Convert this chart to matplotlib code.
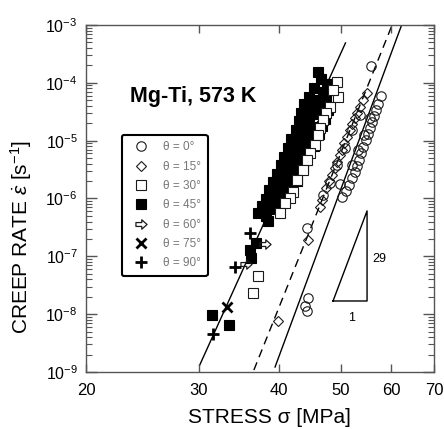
import numpy as np
import matplotlib
matplotlib.use("Agg")
import matplotlib.pyplot as plt
from matplotlib.path import Path
from matplotlib.lines import Line2D
from matplotlib.ticker import (FixedLocator, NullLocator, FixedFormatter,
                               LogFormatterSciNotation, NullFormatter)

plt.rcParams['font.family'] = ['Liberation Sans', 'DejaVu Sans']
plt.rcParams['mathtext.fontset'] = 'custom'
plt.rcParams['mathtext.rm'] = 'Liberation Sans'
plt.rcParams['mathtext.it'] = 'Liberation Sans:italic'
plt.rcParams['mathtext.bf'] = 'Liberation Sans:bold'

# ---------------- data ----------------
# theta = 0 deg (open circles)
s0 = [57.9, 57.2, 56.8, 56.4, 56.0, 55.6, 55.2, 54.8, 54.2, 53.8, 53.5, 53.1, 52.7, 52.1,
      51.6, 51.0, 50.3, 49.9, 55.6, 54.4, 53.3, 52.1, 53.6, 52.1, 50.8, 49.4, 48.2, 47.0,
      55.8, 44.3, 44.5, 44.0, 44.3]
r0 = [5.9e-5, 4.3e-5, 3.4e-5, 2.7e-5, 2.1e-5, 1.66e-5, 1.30e-5, 1.03e-5, 7.8e-6, 6.1e-6,
      4.6e-6, 3.65e-6, 2.9e-6, 2.26e-6, 1.71e-6, 1.35e-6, 1.06e-6, 1.78e-6, 2.5e-5, 1.25e-5,
      6.9e-6, 3.8e-6, 2.8e-5, 1.53e-5, 7.5e-6, 3.8e-6, 1.85e-6, 1.15e-6,
      1.95e-4, 3.1e-7, 1.90e-8, 1.38e-8, 1.13e-8]
# theta = 15 deg (open diamonds)
s15 = [55.0, 54.2, 53.6, 53.1, 52.7, 52.1, 51.7, 51.2, 50.6, 50.3, 49.9, 49.4, 49.0, 48.5,
       48.0, 47.5, 46.8, 46.4, 44.5, 39.9]
r15 = [6.7e-5, 5.0e-5, 3.8e-5, 3.0e-5, 2.5e-5, 1.94e-5, 1.53e-5, 1.16e-5, 9.1e-6, 6.9e-6,
       5.65e-6, 4.3e-6, 3.4e-6, 2.55e-6, 2.0e-6, 1.52e-6, 9.4e-7, 7.1e-7, 1.91e-7, 7.6e-9]
# theta = 30 deg (open squares)
s30 = [49.4, 49.6, 48.7, 48.2, 47.5, 47.0, 46.4, 46.1, 45.6, 44.8, 44.3, 43.7, 42.8, 42.1,
       41.7, 40.9, 40.2, 37.2, 36.5]
r30 = [1.03e-4, 5.7e-5, 7.5e-5, 3.8e-5, 3.0e-5, 2.3e-5, 1.66e-5, 1.25e-5, 8.4e-6, 6.1e-6,
       4.6e-6, 3.1e-6, 2.09e-6, 1.29e-6, 1.02e-6, 8.4e-7, 5.6e-7, 4.6e-8, 2.32e-8]
# theta = 45 deg (closed squares)
s45 = [46.1, 46.6, 47.6, 45.45, 46.95, 48.0, 44.6, 45.95, 47.5, 43.85, 45.1, 46.6, 47.8,
       43.4, 44.6, 46.1, 47.3, 43.1, 44.15, 45.6, 46.8, 42.6, 43.85, 44.95, 46.3,
       41.85, 43.05, 44.15, 45.45, 41.4, 42.45, 43.5, 44.6, 40.8, 41.85, 43.05, 44.15,
       40.35, 41.4, 42.6, 43.7, 39.8, 40.95, 42.15, 39.2, 40.35, 41.55, 42.75,
       38.65, 39.8, 40.95, 38.25, 39.2, 40.35, 37.7, 38.65, 39.8, 37.15, 38.25, 38.5,
       36.9, 36.1, 36.2, 31.5, 33.5]
r45 = [1.54e-4, 1.16e-4, 9.5e-5, 8.1e-5, 6.9e-5, 7.5e-5, 5.7e-5, 5.0e-5, 5.25e-5,
       4.3e-5, 3.8e-5, 4.0e-5, 3.4e-5, 3.0e-5, 2.67e-5, 2.89e-5, 2.37e-5,
       2.19e-5, 1.94e-5, 1.72e-5, 1.79e-5, 1.53e-5, 1.36e-5, 1.20e-5, 1.30e-5,
       1.07e-5, 9.9e-6, 8.8e-6, 8.1e-6, 7.5e-6, 6.6e-6, 5.9e-6, 6.4e-6,
       5.2e-6, 4.6e-6, 4.3e-6, 4.6e-6, 3.8e-6, 3.4e-6, 3.1e-6, 3.5e-6,
       2.65e-6, 2.35e-6, 2.55e-6, 1.93e-6, 1.78e-6, 1.64e-6, 2.0e-6,
       1.40e-6, 1.24e-6, 1.35e-6, 9.8e-7, 9.1e-7, 1.06e-6, 7.4e-7, 6.6e-7, 7.7e-7,
       5.6e-7, 5.0e-7, 4.1e-7, 1.70e-7, 1.29e-7, 9.4e-8, 9.7e-9, 6.5e-9]
# theta = 60 deg (arrow markers)
s60 = [38.1, 35.6]
r60 = [1.63e-7, 7.4e-8]
# theta = 75 deg (crosses)
s75 = [33.2, 37.8]
r75 = [1.33e-8, 5.8e-7]
# theta = 90 deg (plus)
s90 = [31.6, 34.2, 36.1]
r90 = [4.5e-9, 6.5e-8, 2.53e-7]

# fit lines
fitA_s, fitA_r = [30.1, 50.9], [1.3e-9, 4.9e-4]     # solid, left group
fitB_s, fitB_r = [36.6, 60.2], [1.08e-9, 1.0e-3]    # dashed
fitC_s, fitC_r = [39.5, 62.3], [1.22e-9, 1.0e-3]    # solid
# slope triangle (n = 29)
tri_s = [48.67, 55.01, 55.01, 48.67]
tri_r = [1.69e-8, 1.69e-8, 6.1e-7, 1.69e-8]

xticks = [20, 30, 40, 50, 60, 70]
xticklabels = ['20', '30', '40', '50', '60', '70']
yticks = [1e-9, 1e-8, 1e-7, 1e-6, 1e-5, 1e-4, 1e-3]
yminor = [m * d for d in [1e-9, 1e-8, 1e-7, 1e-6, 1e-5, 1e-4] for m in range(2, 10)]
labels = ['θ = 0°', 'θ = 15°', 'θ = 30°', 'θ = 45°', 'θ = 60°', 'θ = 75°', 'θ = 90°']

# ---------------- figure ----------------
fig = plt.figure(figsize=(4.44, 4.29), dpi=100)
ax = fig.add_axes([86/444, (429-372)/429, 348/444, 347/429])
ax.set_xscale('log')
ax.set_yscale('log')
ax.set_xlim(20, 70)
ax.set_ylim(1e-9, 1e-3)

arrow = Path([(-1, -0.35), (0.05, -0.35), (0.05, -0.85), (1, 0), (0.05, 0.85),
              (0.05, 0.35), (-1, 0.35), (-1, -0.35)],
             [Path.MOVETO] + [Path.LINETO] * 6 + [Path.CLOSEPOLY])

ec = '#1a1a1a'
styles = [
    dict(marker='o', ms=6.8, mfc='none', mec=ec, mew=0.8),
    dict(marker='D', ms=5.2, mfc='none', mec=ec, mew=0.8),
    dict(marker='s', ms=6.5, mfc='white', mec=ec, mew=0.8),
    dict(marker='s', ms=7.0, mfc='black', mec='black', mew=0.8),
    dict(marker=arrow, ms=8.0, mfc='none', mec=ec, mew=0.9),
    dict(marker='x', ms=6.5, mfc='none', mec='black', mew=2.0),
    dict(marker='+', ms=8.0, mfc='none', mec='black', mew=2.0),
]
zorders = [3, 3, 4, 3, 5, 5, 5]
series = [(s0, r0), (s15, r15), (s30, r30), (s45, r45), (s60, r60), (s75, r75), (s90, r90)]

ax.plot(fitA_s, fitA_r, color='black', lw=1.0, zorder=1)
ax.plot(fitB_s, fitB_r, color='black', lw=1.0, dashes=(6, 4), zorder=1)
ax.plot(fitC_s, fitC_r, color='black', lw=1.0, zorder=1)
ax.plot(tri_s, tri_r, color='black', lw=1.0, zorder=1)

for (sx, ry), st, z in zip(series, styles, zorders):
    ax.plot(sx, ry, ls='none', zorder=z, **st)

ax.text(56.0, 9.0e-8, '29', fontsize=9, ha='left', va='center')
ax.text(52.1, 8.6e-9, '1', fontsize=9, ha='center', va='center')
ax.text(0.126, 0.793, 'Mg-Ti, 573 K', transform=ax.transAxes, fontsize=15.5,
        fontweight='bold', ha='left', va='center')

handles = [Line2D([], [], ls='none', **st) for st in styles]
leg = ax.legend(handles, labels, loc='upper left', bbox_to_anchor=(0.103, 0.683),
                borderaxespad=0, fontsize=8.5, labelspacing=0.62, handlelength=2.2,
                handletextpad=0.75, borderpad=0.55, fancybox=True, framealpha=1,
                edgecolor='black', labelcolor='#777777')
leg.get_frame().set_linewidth(1.5)
leg.set_zorder(10)

ax.xaxis.set_major_locator(FixedLocator(xticks))
ax.xaxis.set_major_formatter(FixedFormatter(xticklabels))
ax.xaxis.set_minor_locator(NullLocator())
ax.xaxis.set_minor_formatter(NullFormatter())
ax.yaxis.set_major_locator(FixedLocator(yticks))
ax.yaxis.set_minor_locator(FixedLocator(yminor))
ax.yaxis.set_major_formatter(LogFormatterSciNotation())
ax.yaxis.set_minor_formatter(NullFormatter())

ax.tick_params(axis='both', which='both', direction='in', top=True, right=True,
               colors='#555555', labelcolor='black')
ax.tick_params(axis='x', which='major', length=6, width=1, labelsize=12, pad=8)
ax.tick_params(axis='y', which='major', length=8, width=1, labelsize=11.5, pad=6)
ax.tick_params(axis='y', which='minor', length=4, width=0.8)
for sp in ax.spines.values():
    sp.set_color('#555555')
    sp.set_linewidth(1.0)

ax.set_xlabel('STRESS σ [MPa]', fontsize=15)
ax.xaxis.set_label_coords(0.526, -0.148)
ax.xaxis.label.set_va('baseline')
ax.set_ylabel(r'CREEP RATE $\dot{\varepsilon}$ [s$^{-1}$]', fontsize=15)
ax.yaxis.set_label_coords(-0.15, 0.39)

fig.savefig('out.png', dpi=100)
